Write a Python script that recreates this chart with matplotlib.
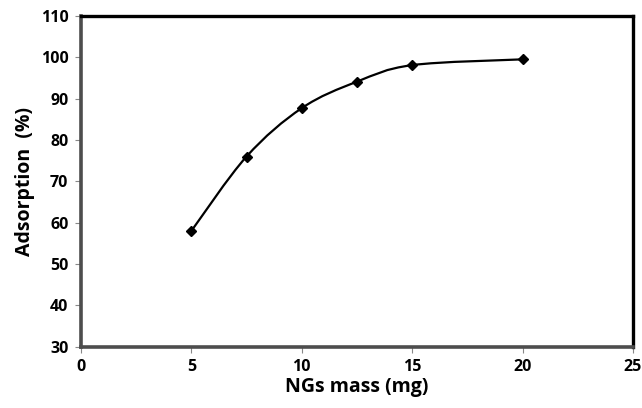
import numpy as np
import matplotlib.pyplot as plt
from matplotlib.path import Path
from matplotlib.patches import PathPatch

# NGs mass (mg) vs adsorption (%)
mass = [5, 7.5, 10, 12.5, 15, 20]
adsorption = [58.0, 76.0, 87.7, 94.1, 98.1, 99.5]

plt.rcParams['font.family'] = ['Open Sans', 'DejaVu Sans']
plt.rcParams['font.weight'] = 'bold'


def smooth_path(x, y):
    # Bezier smoothing through every point, control points at 1/6 of the neighbour chord
    pts = np.column_stack([x, y]).astype(float)
    n = len(pts)
    verts = [pts[0]]
    codes = [Path.MOVETO]
    for i in range(n - 1):
        p0 = pts[i - 1] if i > 0 else pts[i]
        p1, p2 = pts[i], pts[i + 1]
        p3 = pts[i + 2] if i + 2 < n else pts[i + 1]
        c1 = p1 + (p2 - p0) / 6.0
        c2 = p2 - (p3 - p1) / 6.0
        verts += [c1, c2, p2]
        codes += [Path.CURVE4] * 3
    return Path(verts, codes)


fig = plt.figure(figsize=(6.42, 4.08), dpi=100)
ax = fig.add_axes([0.126, 0.15, 0.86, 0.811])

ax.add_patch(PathPatch(smooth_path(mass, adsorption), fill=False,
                       edgecolor='black', lw=1.6, zorder=2))
ax.plot(mass, adsorption, linestyle='none', marker='D', markersize=5.5,
        color='black', zorder=3)

ax.set_xlim(0, 25)
ax.set_ylim(30, 110)
ax.set_xticks(range(0, 26, 5))
ax.set_yticks(range(30, 111, 10))

ax.set_xlabel('NGs mass (mg)', fontsize=14, fontweight='bold', labelpad=1)
ax.set_ylabel('Adsorption  (%)', fontsize=14, fontweight='bold', labelpad=4)

for side in ('left', 'bottom'):
    ax.spines[side].set_color('#4d4d4d')
    ax.spines[side].set_linewidth(2.6)
for side in ('top', 'right'):
    ax.spines[side].set_color('black')
    ax.spines[side].set_linewidth(2.4)

ax.tick_params(direction='out', length=4, width=0.8, color='#888888',
               labelsize=11.5, pad=5)
for lab in ax.get_xticklabels() + ax.get_yticklabels():
    lab.set_fontweight('bold')

fig.savefig('out.png', dpi=100)
